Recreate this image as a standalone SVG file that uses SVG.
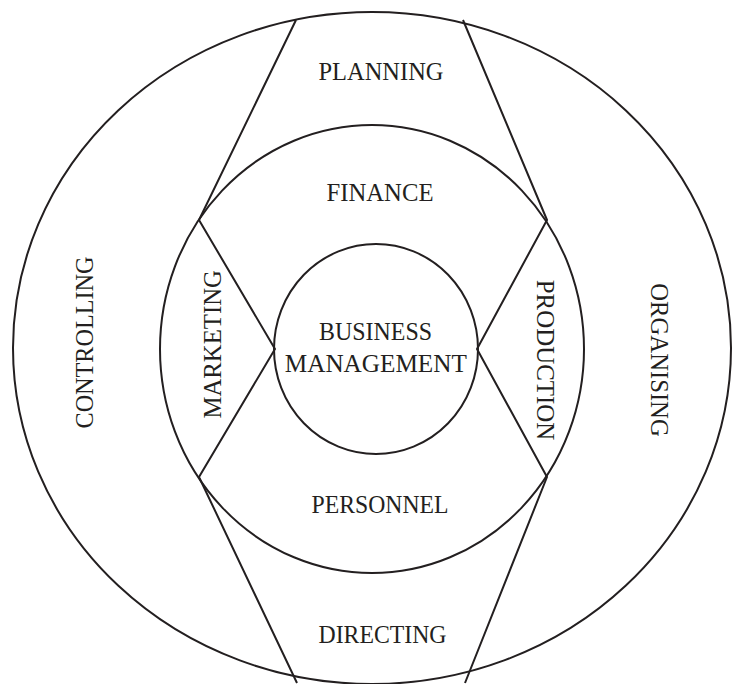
<svg xmlns="http://www.w3.org/2000/svg" width="733" height="684" viewBox="0 0 733 684">
<style>
.ln{fill:none;stroke:#231f20;stroke-width:2;stroke-linejoin:round}
.t{font-family:"Liberation Serif","Times New Roman",serif;font-size:26px;fill:#231f20;text-anchor:middle}
</style>
<rect width="733" height="684" fill="#fff"/>
<g id="outer-ring"><ellipse class="ln" cx="372" cy="348" rx="359" ry="336"/></g>
<g id="middle-ring"><ellipse class="ln" cx="372" cy="349" rx="212" ry="224"/></g>
<g id="business-management">
<ellipse class="ln" cx="376" cy="349" rx="102" ry="105"/>
<text class="t" x="375.5" y="340" textLength="113" lengthAdjust="spacingAndGlyphs">BUSINESS</text>
<text class="t" x="375.8" y="371.5" textLength="182" lengthAdjust="spacingAndGlyphs">MANAGEMENT</text>
</g>
<g id="connectors">
<polyline class="ln" points="296,20 199,220 275,349 199,477 297,683"/>
<polyline class="ln" points="463,20 547,220 477,349 547,477 465,683"/>
</g>
<g id="planning"><text class="t" x="381" y="80" textLength="125" lengthAdjust="spacingAndGlyphs">PLANNING</text></g>
<g id="finance"><text class="t" x="380" y="200.7" textLength="107" lengthAdjust="spacingAndGlyphs">FINANCE</text></g>
<g id="personnel"><text class="t" x="380" y="513.3" textLength="137" lengthAdjust="spacingAndGlyphs">PERSONNEL</text></g>
<g id="directing"><text class="t" x="382.5" y="643.3" textLength="128" lengthAdjust="spacingAndGlyphs">DIRECTING</text></g>
<g id="controlling"><text class="t" transform="translate(93.3,342.5) rotate(-90)" x="0" y="0" textLength="172" lengthAdjust="spacingAndGlyphs">CONTROLLING</text></g>
<g id="marketing"><text class="t" transform="translate(220.5,344.3) rotate(-90)" x="0" y="0" textLength="148.5" lengthAdjust="spacingAndGlyphs">MARKETING</text></g>
<g id="production"><text class="t" transform="translate(537.4,360) rotate(90)" x="0" y="0" textLength="160.5" lengthAdjust="spacingAndGlyphs">PRODUCTION</text></g>
<g id="organising"><text class="t" transform="translate(650.7,360) rotate(90)" x="0" y="0" textLength="153.5" lengthAdjust="spacingAndGlyphs">ORGANISING</text></g>
</svg>
